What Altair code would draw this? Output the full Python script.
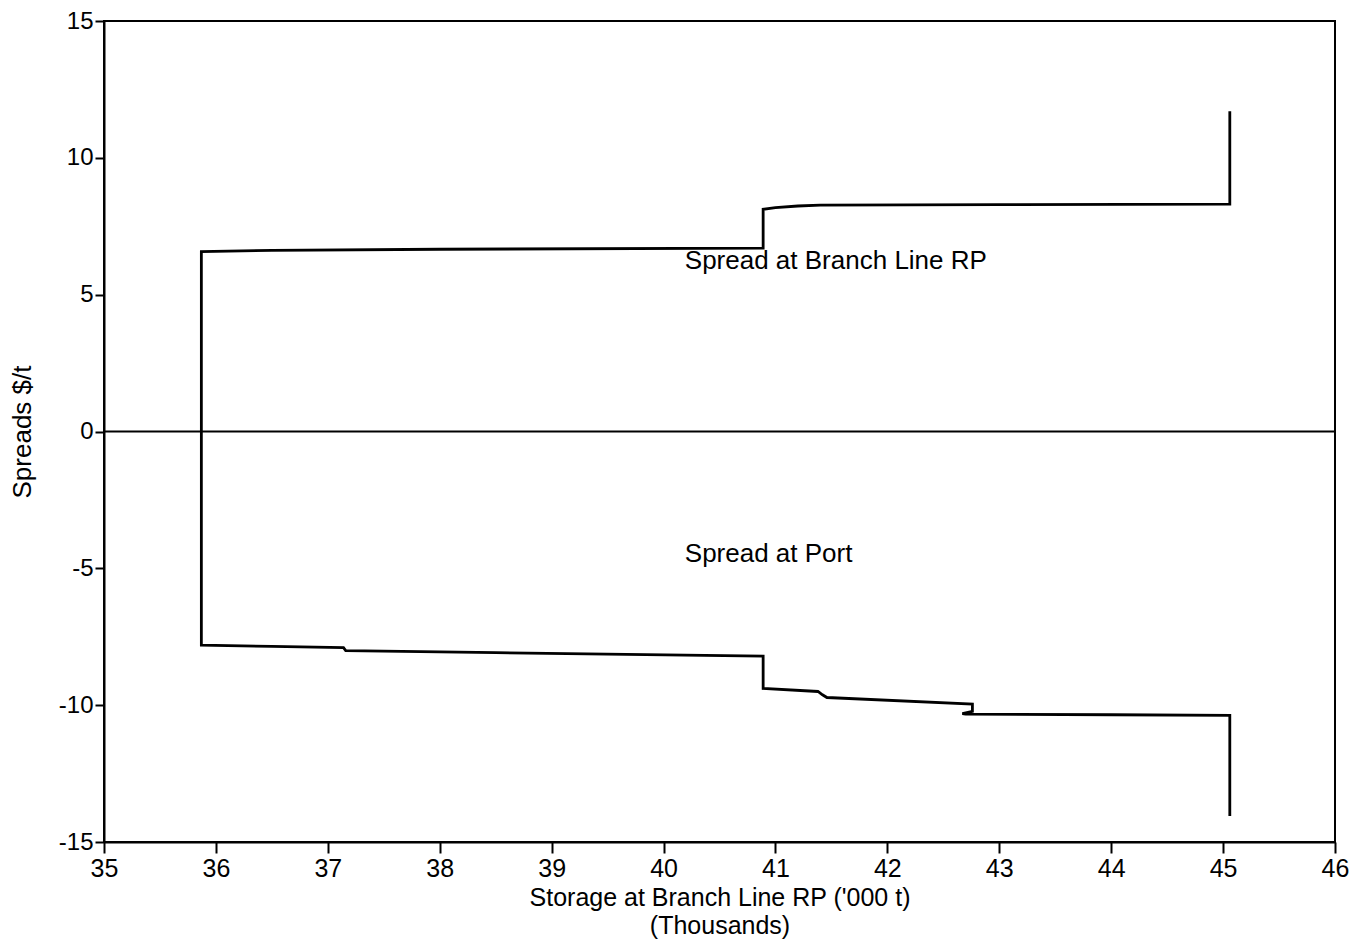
import altair as alt
import pandas as pd

# Upper series: Spread at Branch Line RP
up_x = [35.87, 35.87, 36.5, 38.0, 40.89, 40.89, 41.0, 41.2, 41.4, 43.0, 45.06, 45.06]
up_y = [0.0, 6.57, 6.62, 6.66, 6.70, 8.12, 8.18, 8.24, 8.27, 8.29, 8.31, 11.70]

# Lower series: Spread at Port
lo_x = [35.87, 35.87, 36.5, 37.14, 37.16, 38.5, 40.89, 40.89, 41.38, 41.42, 41.46,
        42.76, 42.76, 42.67, 42.70, 44.0, 45.06, 45.06]
lo_y = [0.0, -7.81, -7.85, -7.90, -8.01, -8.08, -8.21, -9.39, -9.50, -9.62, -9.72,
        -9.96, -10.23, -10.31, -10.33, -10.35, -10.37, -14.05]

label_text = ["Spread at Branch Line RP", "Spread at Port"]
label_x = [40.19, 40.19]
label_y = [6.22, -4.48]

x_ticks = list(range(35, 47))
y_ticks = [-15, -10, -5, 0, 5, 10, 15]

FONT = "Liberation Sans"

rows = []
for i, (a, b) in enumerate(zip(up_x, up_y)):
    rows.append({"series": "upper", "x": a, "y": b, "o": i})
for i, (a, b) in enumerate(zip(lo_x, lo_y)):
    rows.append({"series": "lower", "x": a, "y": b, "o": i})
df = pd.DataFrame(rows)

lab = pd.DataFrame({"t": label_text, "x": label_x, "y": label_y})

xscale = alt.Scale(domain=[35, 46], nice=False, zero=False)
yscale = alt.Scale(domain=[-15, 15], nice=False)

xaxis = alt.Axis(values=x_ticks, title=["Storage at Branch Line RP ('000 t)", "(Thousands)"],
                 labelExpr="toString(datum.value)", labelFlush=False,
                 grid=False, labelFontSize=25, titleFontSize=25, labelFont=FONT, titleFont=FONT,
                 titleFontWeight="normal", labelColor="black", titleColor="black",
                 domainColor="black", tickColor="black", domainWidth=2, tickWidth=2,
                 tickSize=11, labelPadding=3, titlePadding=4, titleLineHeight=28)
yaxis = alt.Axis(values=y_ticks, title="Spreads $/t", grid=False, labelFontSize=24,
                 labelExpr="toString(datum.value)", labelFlush=False,
                 titleFontSize=26, labelFont=FONT, titleFont=FONT, titleFontWeight="normal",
                 labelColor="black", titleColor="black", domainColor="black", tickColor="black",
                 domainWidth=2, tickWidth=2, tickSize=9, labelPadding=2, titlePadding=23)

lines = alt.Chart(df).mark_line(color="black", strokeWidth=2.8, interpolate="linear").encode(
    x=alt.X("x:Q", scale=xscale, axis=xaxis),
    y=alt.Y("y:Q", scale=yscale, axis=yaxis),
    detail="series:N",
    order="o:Q",
)

zero = alt.Chart(pd.DataFrame({"y": [0]})).mark_rule(color="black", strokeWidth=2).encode(
    y=alt.Y("y:Q", scale=yscale)
)

texts = alt.Chart(lab).mark_text(align="left", baseline="middle", fontSize=26, font=FONT,
                                 color="black").encode(
    x=alt.X("x:Q", scale=xscale), y=alt.Y("y:Q", scale=yscale), text="t:N"
)

chart = alt.layer(zero, lines, texts).properties(
    width=1231, height=821,
    background="white",
    autosize=alt.AutoSizeParams(type="none"),
    padding={"left": 96, "top": 13, "right": 16, "bottom": 98},
).configure_view(stroke="black", strokeWidth=2)

chart.save("out.html", embed_options={"renderer": "svg", "actions": False})
